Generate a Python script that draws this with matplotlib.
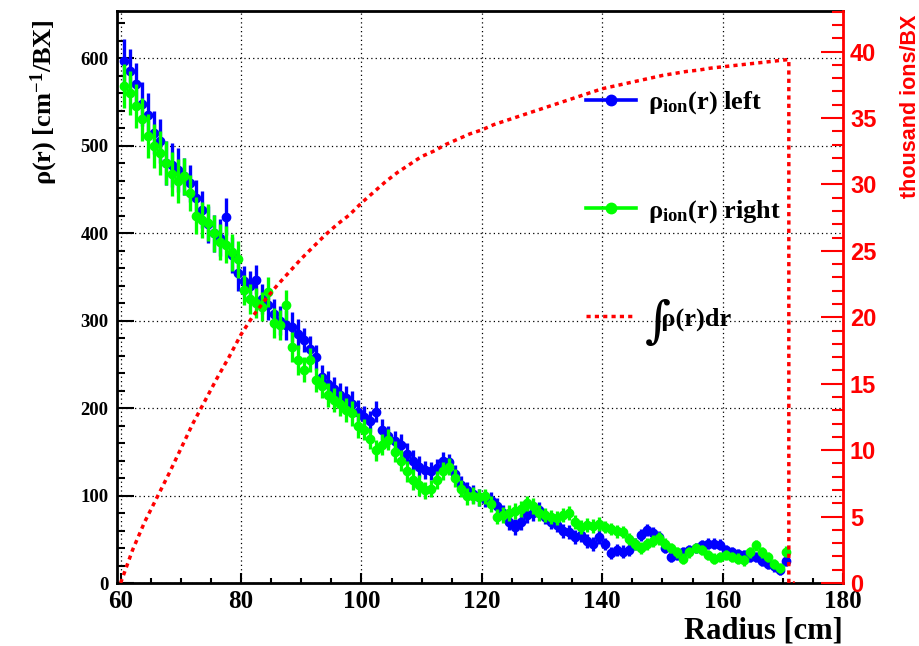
import numpy as np
import matplotlib
matplotlib.use("Agg")
import matplotlib.pyplot as plt
from matplotlib.lines import Line2D
from matplotlib.ticker import MultipleLocator

# ---------------- data ----------------
r_bins = np.arange(60.5, 171.0, 1.0)

rho_left = [597, 585, 570, 548, 535, 515, 505, 480, 478, 472,
            465, 457, 440, 427, 410, 400, 395, 419, 375, 355,
            345, 340, 347, 325, 318, 308, 300, 295, 293, 285,
            278, 268, 258, 235, 228, 222, 215, 211, 205, 195,
            190, 185, 196, 175, 168, 162, 158, 148, 140, 133,
            129, 128, 132, 140, 138, 125, 112, 106, 102, 98,
            96, 95, 88, 80, 70, 64, 70, 78, 80, 84,
            75, 70, 66, 60, 58, 53, 55, 48, 45, 53,
            45, 34, 38, 36, 38, 45, 55, 61, 57, 53,
            40, 30, 32, 35, 38, 40, 43, 45, 45, 44,
            38, 35, 33, 32, 30, 30, 25, 22, 19, 15,
            25]

rho_right = [568, 560, 545, 530, 511, 500, 492, 480, 468, 460,
             465, 446, 420, 415, 412, 400, 390, 387, 378, 370,
             335, 325, 320, 316, 333, 297, 295, 318, 270, 255,
             244, 255, 232, 225, 215, 209, 205, 198, 194, 180,
             175, 165, 152, 158, 164, 150, 140, 128, 118, 112,
             106, 108, 118, 128, 133, 120, 108, 99, 100, 98,
             99, 90, 76, 78, 80, 82, 85, 91, 88, 80,
             78, 76, 74, 78, 80, 70, 64, 66, 65, 68,
             64, 62, 59, 58, 50, 45, 40, 45, 48, 51,
             45, 40, 35, 28, 35, 40, 38, 32, 28, 30,
             32, 30, 28, 26, 35, 43, 35, 30, 22, 17,
             36]

# error bar half-lengths per 10 cm segment (last segment = 1 bin)
err_levels = [25, 21, 17, 14, 12, 10, 9, 8, 7, 6, 6, 6]
err_counts = [10] * 11 + [1]

# integral in thousand ions/BX
r_int = [60, 62, 64, 66, 68, 70, 72, 74, 76, 78, 80, 82, 84, 86, 88, 90,
         92, 94, 96, 98, 100, 102, 104, 106, 108, 110, 112, 114, 116, 118,
         120, 122, 124, 126, 128, 130, 132, 134, 136, 138, 140, 142, 144,
         146, 148, 150, 152, 154, 156, 158, 160, 162, 164, 166, 168, 170,
         171, 171, 172]
v_int = [0.0, 2.5, 4.6, 6.4, 8.2, 10.1, 12.0, 13.7, 15.4, 17.0, 18.7, 20.1,
         21.3, 22.4, 23.4, 24.4, 25.3, 26.2, 27.0, 27.7, 28.6, 29.4, 30.2,
         30.9, 31.5, 32.1, 32.5, 33.0, 33.4, 33.8, 34.1, 34.5, 34.8, 35.1,
         35.4, 35.7, 36.0, 36.3, 36.6, 36.9, 37.2, 37.4, 37.6, 37.8, 38.0,
         38.2, 38.35, 38.5, 38.6, 38.75, 38.85, 38.95, 39.05, 39.15, 39.25,
         39.35, 39.4, 0.0, 0.0]

x_ticks = [60, 80, 100, 120, 140, 160, 180]
y_ticks = [0, 100, 200, 300, 400, 500, 600]
y2_ticks = [0, 5, 10, 15, 20, 25, 30, 35, 40]

# ---------------- style ----------------
plt.rcParams['mathtext.fontset'] = 'custom'
plt.rcParams['mathtext.rm'] = 'Liberation Serif:bold'
plt.rcParams['mathtext.it'] = 'Liberation Serif:bold'
plt.rcParams['mathtext.bf'] = 'Liberation Serif:bold'

SERIF = ['Liberation Serif', 'DejaVu Serif']
SANS = ['Liberation Sans', 'DejaVu Sans']
BLUE = '#0000ff'
GREEN = '#00ff00'
RED = '#ff0000'

fig = plt.figure(figsize=(9.2, 6.46), dpi=100)
ax = fig.add_axes([117/920, 1 - 583/646, (843-117)/920, (583-11)/646])
ax2 = ax.twinx()

err = np.repeat(err_levels, err_counts)

ax.errorbar(r_bins, rho_left, yerr=err, fmt='o', color=BLUE, ms=6,
            elinewidth=2.4, capsize=0, zorder=3)
ax.errorbar(r_bins, rho_right, yerr=err, fmt='o', color=GREEN, ms=6,
            elinewidth=2.4, capsize=0, zorder=4)

ax2.plot(r_int, v_int, color=RED, lw=2.5, ls=(0, (1.2, 1.2)), zorder=5)

ax.set_xlim(59.4, 180)
ax.set_ylim(0, 654)
ax2.set_ylim(0, 43.05)

ax.set_xticks(x_ticks)
ax.set_yticks(y_ticks)
ax2.set_yticks(y2_ticks)
ax.xaxis.set_minor_locator(MultipleLocator(5))
ax.yaxis.set_minor_locator(MultipleLocator(20))
ax2.yaxis.set_minor_locator(MultipleLocator(1))

ax.grid(True, which='major', color='black', lw=0.9, ls=(0, (1, 2.5)))
ax.set_axisbelow(True)

ax.tick_params(axis='x', which='major', direction='in', length=7.2, width=1.5,
               labelsize=18, pad=5)
ax.tick_params(axis='x', which='minor', direction='in', length=3.6, width=1.5)
ax.tick_params(axis='y', which='major', direction='in', length=12, width=1.5,
               labelsize=13.5, pad=6, right=False)
ax.tick_params(axis='y', which='minor', direction='in', length=6, width=1.5,
               right=False)
ax.tick_params(top=False)
for lab in ax.get_xticklabels() + ax.get_yticklabels():
    lab.set_family(SERIF)
    lab.set_fontweight('bold')

ax2.tick_params(axis='y', which='major', direction='in', length=16, width=1.5,
                colors=RED, labelsize=17, pad=5)
ax2.tick_params(axis='y', which='minor', direction='in', length=8, width=1.5,
                colors=RED)
for lab in ax2.get_yticklabels():
    lab.set_family(SANS)
    lab.set_fontweight('bold')

for sp in ['left', 'bottom', 'top']:
    ax.spines[sp].set_linewidth(2)
ax.spines['right'].set_visible(False)
ax2.spines['right'].set_color(RED)
ax2.spines['right'].set_linewidth(2)
for sp in ['left', 'bottom', 'top']:
    ax2.spines[sp].set_visible(False)

ax.set_xlabel('Radius [cm]', fontsize=22, fontweight='bold', family=SERIF)
ax.xaxis.set_label_coords(1.0, -0.097)
ax.xaxis.label.set_ha('right')
ax.xaxis.label.set_va('baseline')
ax.set_ylabel('ρ(r) [cm$^{-1}$/BX]', fontsize=19, fontweight='bold', family=SERIF)
ax.yaxis.set_label_coords(-0.122, 0.985)
ax.yaxis.label.set_va('top')
ax.yaxis.label.set_ha('right')
ax2.set_ylabel('thousand ions/BX', fontsize=15.5, fontweight='bold', family=SANS,
               color=RED)
ax2.yaxis.set_label_coords(1.079, 0.993)
ax2.yaxis.label.set_ha('right')

handles = [Line2D([], [], color=BLUE, lw=2.6, marker='o', ms=7.5),
           Line2D([], [], color=GREEN, lw=2.6, marker='o', ms=7.5),
           Line2D([], [], color=RED, lw=2.5, ls=(0, (1.2, 1.2)))]
labels = ['ρ$_{\\mathrm{ion}}$(r) left', 'ρ$_{\\mathrm{ion}}$(r) right',
          '  ρ(r)dr']
leg = ax.legend(handles, labels, loc='upper left',
                bbox_to_anchor=((575-117)/726, 1 - (79-11)/572),
                frameon=False, handlelength=1.9, handletextpad=0.45,
                labelspacing=3.1, borderaxespad=0,
                prop={'family': SERIF, 'weight': 'bold', 'size': 19})

fig.canvas.draw()
tb = leg.get_texts()[2].get_window_extent()
inv = fig.transFigure.inverted()
x0, y0 = inv.transform((tb.x0 - 3, (tb.y0 + tb.y1) / 2 - 4))
fig.text(x0, y0, '∫', fontsize=36, family=['DejaVu Serif'], va='center',
         ha='left')

fig.savefig('out.png', dpi=100)
